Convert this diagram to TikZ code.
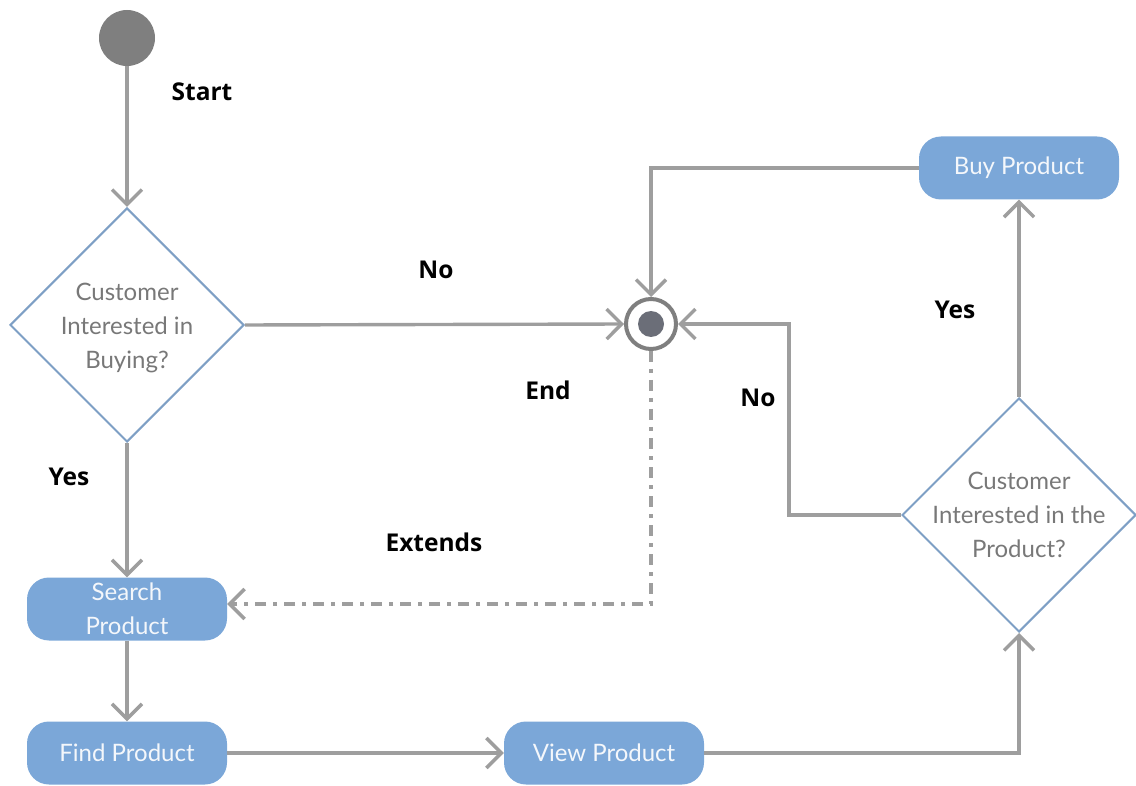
\documentclass[tikz,border=0pt]{standalone}
\usepackage{fontspec}
\setmainfont{Lato}
\newfontfamily\lblfont{Open Sans}
\usetikzlibrary{shapes.geometric, arrows.meta}

\definecolor{boxblue}{HTML}{7BA7D8}
\definecolor{boxtext}{HTML}{F4F7FB}
\definecolor{diamblue}{HTML}{7E9FC5}
\definecolor{qgray}{HTML}{787878}
\definecolor{linegray}{HTML}{9E9E9E}
\definecolor{startgray}{HTML}{7F7F7F}
\definecolor{enddot}{HTML}{6B6E78}

\tikzset{
    flow/.style={draw=linegray, line width=3.4pt,
        -{Straight Barb[length=15pt,width=30pt]}},
    extend/.style={flow, dash pattern=on 11pt off 7pt on 4pt off 7pt},
    actbox/.style={rectangle, rounded corners=22pt, fill=boxblue, text=boxtext,
        minimum width=200pt, minimum height=63pt, align=center,
        font=\fontsize{24}{34}\selectfont},
    decide/.style={diamond, draw=diamblue, line width=2pt,
        minimum width=234pt, minimum height=234pt, inner sep=0pt},
    qtext/.style={text=qgray, align=center, font=\fontsize{24}{34}\selectfont},
    tag/.style={font=\lblfont\bfseries\fontsize{24.5}{28}\selectfont}
}

\begin{document}
\begin{tikzpicture}[x=1pt, y=-1pt]
    \useasboundingbox (0,0) rectangle (1136,786);

    % start and end
    \node[circle, fill=startgray, minimum size=56pt, inner sep=0pt] (start) at (127,38) {};
    \node[circle, draw=startgray, line width=4pt, minimum size=50pt, inner sep=0pt] (finish) at (651,324) {};
    \fill[enddot] (finish.center) circle (13pt);

    % decisions
    \node[decide, label={[qtext, yshift=-3pt]center:{Customer\\Interested in\\Buying?}}] (q1) at (127,325) {};
    \node[decide, label={[qtext]center:{Customer\\Interested in the\\Product?}}] (q2) at (1019,515) {};

    % activities
    \node[actbox] (search) at (127,609) {Search\\Product};
    \node[actbox] (find) at (127,753) {Find Product};
    \node[actbox] (view) at (604,753) {View Product};
    \node[actbox] (buy) at (1019,168) {Buy Product};

    % connectors
    \draw[flow] (start) -- (q1.north);
    \draw[flow] (q1.east) -- (finish.west);
    \draw[flow] (q1.south) -- (search.north);
    \draw[flow] (search) -- (find);
    \draw[flow] (find) -- (view);
    \draw[flow] (view.east) -| (q2.south);
    \draw[flow] (q2.north) -- (buy.south);
    \draw[flow] (q2.west) -- ++(-112,0) |- (finish.east);
    \draw[flow] (buy.west) -| (finish.north);
    \draw[extend] (finish.south) |- ([yshift=5pt]search.east);

    % labels
    \node[tag] (lstart) at (202,92) {Start};
    \node[tag] (lno1) at (436,270) {No};
    \node[tag] (lyes1) at (69,477) {Yes};
    \node[tag] (lend) at (548,390) {End};
    \node[tag] (lext) at (434,542) {Extends};
    \node[tag] (lyes2) at (955,310) {Yes};
    \node[tag] (lno2) at (758,398) {No};
\end{tikzpicture}
\end{document}
